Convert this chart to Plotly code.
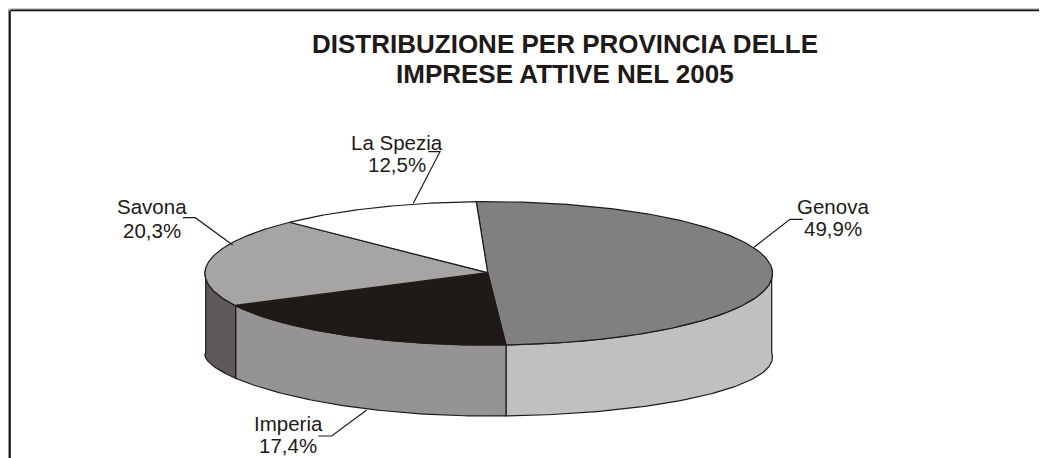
import numpy as np
import plotly.graph_objects as go

# --- data ---
PROVINCES = ["Genova", "Imperia", "Savona", "La Spezia"]
SHARES = [49.9, 17.4, 20.3, 12.5]
TITLE_LINES = ["DISTRIBUZIONE PER PROVINCIA DELLE", "IMPRESE ATTIVE NEL 2005"]

# --- styles ---
TOP_COLORS = ["#808080", "#1f1a17", "#a7a5a4", "#ffffff"]
SIDE_COLORS = ["#c0c0c0", "#959394", "#5e5a5a", "#ffffff"]
INK = "#1f1a17"
FONT = "Liberation Sans"

# --- layout of the pseudo 3D pie, in page pixels ---
W, H = 1047, 458
PAGE_MARGIN = 8
CX, RX = 488.7, 283.0
TOP_CY, TOP_R, KT = 268.0, 71.3, 0.0746
BOT_CY, BOT_R, KB = 353.0, 58.3, 0.0746
APEX = (487.7, 272.7)
START_DEG = -2.7
BOT_LEFT_FLATTEN = 1.3

LABEL_POS = {
    "Genova": (833, 206, 228),
    "Imperia": (288, 423, 445.5),
    "Savona": (152, 206, 230),
    "La Spezia": (397, 142, 164),
}
LEADERS = {
    "Genova": ([802.7, 790, 754], [219.3, 219.3, 247.3]),
    "Imperia": ([318.3, 331.7, 366.7], [436, 436, 410]),
    "Savona": ([183, 195.3, 232.7], [217.7, 217.7, 245]),
    "La Spezia": ([428.3, 440, 413.3], [151.7, 151.7, 203.3]),
}


def rim(deg, cy, r, k, flatten=1.0):
    t = np.radians(deg)
    u, v = np.sin(t), -np.cos(t)
    f = 1 / (1 - k * v)
    xf = 1 / (1 - KT * v)
    vy = np.where((u < 0) & (v > 0), np.clip(v, 0, 1) ** flatten, v)
    return CX + RX * u * xf, cy + r * vy * f


def poly(xs, ys, fill, width=1.2):
    return go.Scatter(
        x=list(xs), y=list(ys), mode="lines", fill="toself", fillcolor=fill,
        line=dict(color=INK, width=width), hoverinfo="skip", showlegend=False,
    )


fig = go.Figure()

edges = START_DEG + np.concatenate([[0], np.cumsum(SHARES)]) / sum(SHARES) * 360

# sides (only the visible front half, from 90 to 270 degrees clockwise from top)
for i in range(len(SHARES)):
    a, b = max(edges[i], 90), min(edges[i + 1], 270)
    if b <= a:
        continue
    th = np.linspace(a, b, 90)
    xt, yt = rim(th, TOP_CY, TOP_R, KT)
    xb, yb = rim(th, BOT_CY, BOT_R, KB, BOT_LEFT_FLATTEN)
    fig.add_trace(poly(np.r_[xt, xb[::-1], xt[0]], np.r_[yt, yb[::-1], yt[0]], SIDE_COLORS[i]))

# top faces
for i in range(len(SHARES)):
    th = np.linspace(edges[i], edges[i + 1], 180)
    xt, yt = rim(th, TOP_CY, TOP_R, KT)
    fig.add_trace(poly(np.r_[APEX[0], xt, APEX[0]], np.r_[APEX[1], yt, APEX[1]], TOP_COLORS[i]))

# leaders
for name in PROVINCES:
    lx, ly = LEADERS[name]
    fig.add_trace(go.Scatter(x=lx, y=ly, mode="lines", line=dict(color=INK, width=1.2),
                             hoverinfo="skip", showlegend=False))

# labels
for name, share in zip(PROVINCES, SHARES):
    x, y1, y2 = LABEL_POS[name]
    for text, y in ((name, y1), (f"{share:.1f}%".replace(".", ","), y2)):
        fig.add_annotation(x=x, y=y, text=text, showarrow=False, xanchor="center", yanchor="middle",
                           font=dict(family=FONT, size=20.5, color=INK))

# title
for text, y in zip(TITLE_LINES, (43.5, 73.5)):
    fig.add_annotation(x=564.5, y=y, text=f"<b>{text}</b>", showarrow=False, xanchor="center",
                       yanchor="middle", font=dict(family=FONT, size=26, color=INK))

# frame open to the right and bottom
for pos, col, wid in ((9.0, "#999999", 1), (10.4, "#111111", 1.8)):
    fig.add_shape(type="line", x0=pos, y0=pos, x1=W + PAGE_MARGIN, y1=pos, line=dict(color=col, width=wid))
    fig.add_shape(type="line", x0=pos - 0.5, y0=pos, x1=pos - 0.5, y1=H + PAGE_MARGIN, line=dict(color=col, width=wid))

fig.update_layout(
    width=W - PAGE_MARGIN, height=H - PAGE_MARGIN, margin=dict(l=0, r=0, t=0, b=0),
    paper_bgcolor="white", plot_bgcolor="white", showlegend=False,
    xaxis=dict(range=[PAGE_MARGIN, W], visible=False, fixedrange=True),
    yaxis=dict(range=[H, PAGE_MARGIN], visible=False, fixedrange=True),
)
fig.write_html("out.html", config={"displayModeBar": False})
